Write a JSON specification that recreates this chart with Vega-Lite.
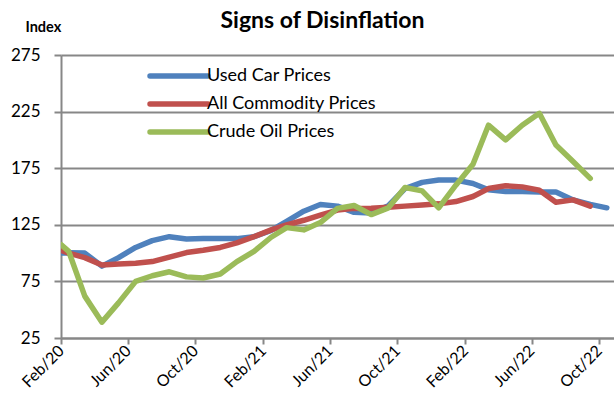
{
  "$schema": "https://vega.github.io/schema/vega-lite/v6.json",
  "width": 553,
  "height": 283,
  "autosize": {"type": "none"},
  "padding": {"left": 61, "top": 55, "right": 0, "bottom": 71},
  "background": "white",
  "title": {"text": "Signs of Disinflation", "font": "Lato", "fontSize": 23, "fontWeight": "bold", "color": "black", "anchor": "middle", "dx": -15, "offset": -14},
  "data": {"values": [
    {"date": "2020-02-01T00:00:00", "series": "Used Car Prices", "value": 100},
    {"date": "2020-02-15T00:00:00", "series": "Used Car Prices", "value": 100.3},
    {"date": "2020-03-15T00:00:00", "series": "Used Car Prices", "value": 100},
    {"date": "2020-04-15T00:00:00", "series": "Used Car Prices", "value": 88.5},
    {"date": "2020-05-15T00:00:00", "series": "Used Car Prices", "value": 96},
    {"date": "2020-06-15T00:00:00", "series": "Used Car Prices", "value": 105},
    {"date": "2020-07-15T00:00:00", "series": "Used Car Prices", "value": 111},
    {"date": "2020-08-15T00:00:00", "series": "Used Car Prices", "value": 114.5},
    {"date": "2020-09-15T00:00:00", "series": "Used Car Prices", "value": 112.5},
    {"date": "2020-10-15T00:00:00", "series": "Used Car Prices", "value": 113},
    {"date": "2020-11-15T00:00:00", "series": "Used Car Prices", "value": 113},
    {"date": "2020-12-15T00:00:00", "series": "Used Car Prices", "value": 112.8},
    {"date": "2021-01-15T00:00:00", "series": "Used Car Prices", "value": 114.5},
    {"date": "2021-02-15T00:00:00", "series": "Used Car Prices", "value": 120},
    {"date": "2021-03-15T00:00:00", "series": "Used Car Prices", "value": 128},
    {"date": "2021-04-15T00:00:00", "series": "Used Car Prices", "value": 137},
    {"date": "2021-05-15T00:00:00", "series": "Used Car Prices", "value": 143},
    {"date": "2021-06-15T00:00:00", "series": "Used Car Prices", "value": 141.5},
    {"date": "2021-07-15T00:00:00", "series": "Used Car Prices", "value": 136},
    {"date": "2021-08-15T00:00:00", "series": "Used Car Prices", "value": 135.5},
    {"date": "2021-09-15T00:00:00", "series": "Used Car Prices", "value": 141.8},
    {"date": "2021-10-15T00:00:00", "series": "Used Car Prices", "value": 157},
    {"date": "2021-11-15T00:00:00", "series": "Used Car Prices", "value": 162.5},
    {"date": "2021-12-15T00:00:00", "series": "Used Car Prices", "value": 164.5},
    {"date": "2022-01-15T00:00:00", "series": "Used Car Prices", "value": 164.5},
    {"date": "2022-02-15T00:00:00", "series": "Used Car Prices", "value": 161.5},
    {"date": "2022-03-15T00:00:00", "series": "Used Car Prices", "value": 156},
    {"date": "2022-04-15T00:00:00", "series": "Used Car Prices", "value": 154.5},
    {"date": "2022-05-15T00:00:00", "series": "Used Car Prices", "value": 154.5},
    {"date": "2022-06-15T00:00:00", "series": "Used Car Prices", "value": 154},
    {"date": "2022-07-15T00:00:00", "series": "Used Car Prices", "value": 154},
    {"date": "2022-08-15T00:00:00", "series": "Used Car Prices", "value": 147},
    {"date": "2022-09-15T00:00:00", "series": "Used Car Prices", "value": 143},
    {"date": "2022-10-15T00:00:00", "series": "Used Car Prices", "value": 140},
    {"date": "2020-02-01T00:00:00", "series": "All Commodity Prices", "value": 102.5},
    {"date": "2020-02-15T00:00:00", "series": "All Commodity Prices", "value": 100},
    {"date": "2020-03-15T00:00:00", "series": "All Commodity Prices", "value": 96},
    {"date": "2020-04-15T00:00:00", "series": "All Commodity Prices", "value": 89.5},
    {"date": "2020-05-15T00:00:00", "series": "All Commodity Prices", "value": 90.3},
    {"date": "2020-06-15T00:00:00", "series": "All Commodity Prices", "value": 91},
    {"date": "2020-07-15T00:00:00", "series": "All Commodity Prices", "value": 92.5},
    {"date": "2020-08-15T00:00:00", "series": "All Commodity Prices", "value": 96.5},
    {"date": "2020-09-15T00:00:00", "series": "All Commodity Prices", "value": 100.5},
    {"date": "2020-10-15T00:00:00", "series": "All Commodity Prices", "value": 102.5},
    {"date": "2020-11-15T00:00:00", "series": "All Commodity Prices", "value": 105},
    {"date": "2020-12-15T00:00:00", "series": "All Commodity Prices", "value": 109},
    {"date": "2021-01-15T00:00:00", "series": "All Commodity Prices", "value": 114.5},
    {"date": "2021-02-15T00:00:00", "series": "All Commodity Prices", "value": 120.5},
    {"date": "2021-03-15T00:00:00", "series": "All Commodity Prices", "value": 125},
    {"date": "2021-04-15T00:00:00", "series": "All Commodity Prices", "value": 129},
    {"date": "2021-05-15T00:00:00", "series": "All Commodity Prices", "value": 133.5},
    {"date": "2021-06-15T00:00:00", "series": "All Commodity Prices", "value": 138},
    {"date": "2021-07-15T00:00:00", "series": "All Commodity Prices", "value": 139.5},
    {"date": "2021-08-15T00:00:00", "series": "All Commodity Prices", "value": 139.7},
    {"date": "2021-09-15T00:00:00", "series": "All Commodity Prices", "value": 140.5},
    {"date": "2021-10-15T00:00:00", "series": "All Commodity Prices", "value": 141.5},
    {"date": "2021-11-15T00:00:00", "series": "All Commodity Prices", "value": 142.5},
    {"date": "2021-12-15T00:00:00", "series": "All Commodity Prices", "value": 143.5},
    {"date": "2022-01-15T00:00:00", "series": "All Commodity Prices", "value": 145.5},
    {"date": "2022-02-15T00:00:00", "series": "All Commodity Prices", "value": 150},
    {"date": "2022-03-15T00:00:00", "series": "All Commodity Prices", "value": 157},
    {"date": "2022-04-15T00:00:00", "series": "All Commodity Prices", "value": 159.5},
    {"date": "2022-05-15T00:00:00", "series": "All Commodity Prices", "value": 158.5},
    {"date": "2022-06-15T00:00:00", "series": "All Commodity Prices", "value": 155.5},
    {"date": "2022-07-15T00:00:00", "series": "All Commodity Prices", "value": 145},
    {"date": "2022-08-15T00:00:00", "series": "All Commodity Prices", "value": 147},
    {"date": "2022-09-15T00:00:00", "series": "All Commodity Prices", "value": 141.5},
    {"date": "2020-02-01T00:00:00", "series": "Crude Oil Prices", "value": 107.5},
    {"date": "2020-02-15T00:00:00", "series": "Crude Oil Prices", "value": 101.5},
    {"date": "2020-03-15T00:00:00", "series": "Crude Oil Prices", "value": 62},
    {"date": "2020-04-15T00:00:00", "series": "Crude Oil Prices", "value": 39},
    {"date": "2020-05-15T00:00:00", "series": "Crude Oil Prices", "value": 56},
    {"date": "2020-06-15T00:00:00", "series": "Crude Oil Prices", "value": 75},
    {"date": "2020-07-15T00:00:00", "series": "Crude Oil Prices", "value": 80},
    {"date": "2020-08-15T00:00:00", "series": "Crude Oil Prices", "value": 83.5},
    {"date": "2020-09-15T00:00:00", "series": "Crude Oil Prices", "value": 79},
    {"date": "2020-10-15T00:00:00", "series": "Crude Oil Prices", "value": 78},
    {"date": "2020-11-15T00:00:00", "series": "Crude Oil Prices", "value": 81.5},
    {"date": "2020-12-15T00:00:00", "series": "Crude Oil Prices", "value": 92.5},
    {"date": "2021-01-15T00:00:00", "series": "Crude Oil Prices", "value": 101.5},
    {"date": "2021-02-15T00:00:00", "series": "Crude Oil Prices", "value": 114},
    {"date": "2021-03-15T00:00:00", "series": "Crude Oil Prices", "value": 122.5},
    {"date": "2021-04-15T00:00:00", "series": "Crude Oil Prices", "value": 120.5},
    {"date": "2021-05-15T00:00:00", "series": "Crude Oil Prices", "value": 127},
    {"date": "2021-06-15T00:00:00", "series": "Crude Oil Prices", "value": 139.5},
    {"date": "2021-07-15T00:00:00", "series": "Crude Oil Prices", "value": 142},
    {"date": "2021-08-15T00:00:00", "series": "Crude Oil Prices", "value": 134},
    {"date": "2021-09-15T00:00:00", "series": "Crude Oil Prices", "value": 140},
    {"date": "2021-10-15T00:00:00", "series": "Crude Oil Prices", "value": 158},
    {"date": "2021-11-15T00:00:00", "series": "Crude Oil Prices", "value": 155},
    {"date": "2021-12-15T00:00:00", "series": "Crude Oil Prices", "value": 140},
    {"date": "2022-01-15T00:00:00", "series": "Crude Oil Prices", "value": 160},
    {"date": "2022-02-15T00:00:00", "series": "Crude Oil Prices", "value": 178.5},
    {"date": "2022-03-15T00:00:00", "series": "Crude Oil Prices", "value": 213},
    {"date": "2022-04-15T00:00:00", "series": "Crude Oil Prices", "value": 200},
    {"date": "2022-05-15T00:00:00", "series": "Crude Oil Prices", "value": 213},
    {"date": "2022-06-15T00:00:00", "series": "Crude Oil Prices", "value": 223.5},
    {"date": "2022-07-15T00:00:00", "series": "Crude Oil Prices", "value": 195.5},
    {"date": "2022-08-15T00:00:00", "series": "Crude Oil Prices", "value": 181},
    {"date": "2022-09-15T00:00:00", "series": "Crude Oil Prices", "value": 166}
  ]},
  "mark": {"type": "line", "strokeWidth": 5.5, "strokeJoin": "round", "strokeCap": "round", "clip": true},
  "encoding": {
    "x": {
      "field": "date", "type": "temporal",
      "scale": {"domain": [{"year": 2020, "month": 2, "date": 1}, {"year": 2022, "month": 10, "date": 28}], "nice": false},
      "axis": {
        "title": null, "format": "%b/%y",
        "values": [
          {"year": 2020, "month": 2, "date": 1}, {"year": 2020, "month": 6, "date": 1}, {"year": 2020, "month": 10, "date": 1},
          {"year": 2021, "month": 2, "date": 1}, {"year": 2021, "month": 6, "date": 1}, {"year": 2021, "month": 10, "date": 1},
          {"year": 2022, "month": 2, "date": 1}, {"year": 2022, "month": 6, "date": 1}, {"year": 2022, "month": 10, "date": 1}
        ],
        "grid": false, "labelAngle": -45, "labelAlign": "right", "labelBaseline": "middle",
        "tickSize": 6, "labelPadding": 4, "labelFontSize": 16, "labelOverlap": false, "labelFlush": false
      }
    },
    "y": {
      "field": "value", "type": "quantitative",
      "scale": {"domain": [25, 275], "nice": false, "zero": false},
      "axis": {
        "values": [25, 75, 125, 175, 225, 275],
        "title": "Index", "titleAngle": 0, "titleAlign": "left", "titleBaseline": "middle",
        "titleX": -36, "titleY": -28, "titleFont": "Lato", "titleFontSize": 14.5, "titleFontWeight": "bold", "titleColor": "black",
        "tickSize": 7, "labelPadding": 14, "labelFontSize": 17, "grid": true
      }
    },
    "color": {
      "field": "series", "type": "nominal",
      "scale": {"domain": ["Used Car Prices", "All Commodity Prices", "Crude Oil Prices"], "range": ["#4F81BD", "#C0504D", "#9BBB59"]},
      "sort": ["Used Car Prices", "All Commodity Prices", "Crude Oil Prices"],
      "legend": {
        "orient": "none", "legendX": 109, "legendY": 12, "title": null,
        "symbolType": "M-4.83,0H4.83", "symbolSize": 144, "symbolStrokeWidth": 5.5,
        "labelFont": "Lato", "labelFontSize": 18, "labelColor": "black", "labelOffset": 19, "rowPadding": 6, "labelLimit": 400,
        "encode": {"symbols": {"update": {"strokeCap": {"value": "round"}}}}
      }
    }
  },
  "config": {
    "view": {"stroke": null},
    "axis": {
      "domainColor": "#878787", "domainWidth": 2, "tickColor": "#878787", "tickWidth": 2,
      "gridColor": "#878787", "gridWidth": 2, "labelFont": "Lato", "labelColor": "black"
    }
  }
}
